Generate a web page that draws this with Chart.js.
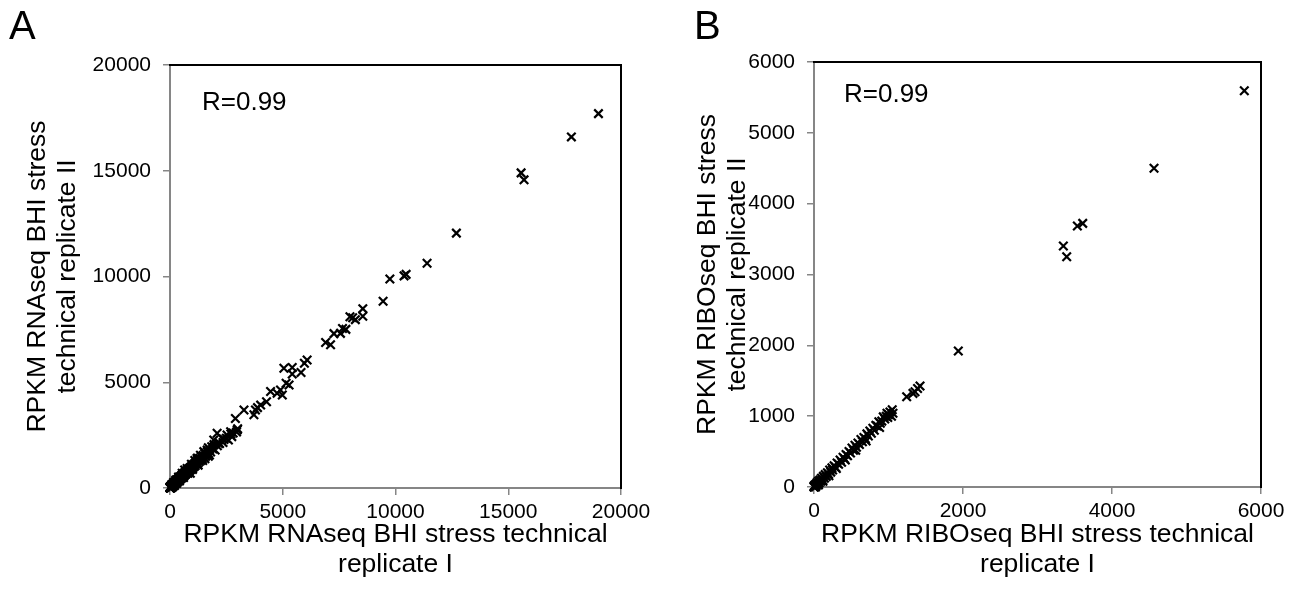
<!DOCTYPE html>
<html><head><meta charset="utf-8">
<script src="https://cdn.jsdelivr.net/npm/chart.js@4.4.1/dist/chart.umd.min.js"></script>
<style>
html,body{margin:0;padding:0;background:#fff;}
body{width:1297px;height:590px;position:relative;overflow:hidden;font-family:'Liberation Sans',Arial,sans-serif;}
.panel{position:absolute;top:0;}
#wrapA{left:0;width:660px;height:590px;}
#wrapB{left:660px;width:637px;height:590px;}
.letter{position:absolute;font-size:40px;line-height:1;color:#000;}
</style></head>
<body>
<div id="wrapA" class="panel"><canvas id="cA" width="660" height="590"></canvas></div>
<div id="wrapB" class="panel"><canvas id="cB" width="637" height="590"></canvas></div>
<div class="letter" style="left:9px;top:5px">A</div>
<div class="letter" style="left:694px;top:5px">B</div>
<script>
// ---------- Panel A: RNAseq technical replicates ----------
const rnaRep1 = [19000,17800,15570,15700,12700,11400,10470,10380,9750,9450,8550,8550,8220,7980,8100,7800,7650,7560,7270,7120,6900,6080,5960,5810,5420,5050,5420,5280,5150,4900,4750,4460,4980,4280,4020,3790,3720,3880,3280,2900,2980,2690,2530,2310,2090,1940,2160,2740,2590,
 2200,2400,2500,2700,2800,3000,2950,2350,1650,1350,1100,1450,1250,900,650,1700,
 1900,1850,1800,1760,1700,1650,1620,1580,1540,1500,1470,1430,1400,1360,1330,1300,1270,1240,1210,1180,1150,1120,1100,1070,1050,1020,1000,980,960,940,920,900,880,860,840,820,800,780,765,750,730,710,700,680,665,650,635,620,605,590,575,560,545,530,515,500,490,475,460,450,435,420,410,395,380,370,355,340,330,315,300,290,280,265,250,240,230,215,200,190,180,170,160,150,140,130,120,110,100,90,80,70,60,50,45,35,30,20,15,10,5,0,25,0,60,10,120,80,200,160,300,260,420,380,600,540,800,760,1000,950,1250,1200,1550,1500,1750,1700,1950,2000,2100];
const rnaRep2 = [17700,16600,14900,14570,12050,10630,10100,10030,9880,8830,8480,8120,7960,8100,8050,7500,7540,7310,7300,6770,6880,6050,5900,5460,5700,5660,5390,4870,4950,4630,4480,4560,4400,4080,3920,3690,3460,3800,3690,3290,2740,2660,2510,2350,2590,2270,2110,2430,2270,
 2100,2300,2350,2550,2600,2800,2650,2150,1800,1550,1300,1300,1400,700,850,1500,
 1850,1950,1700,1820,1640,1720,1580,1500,1620,1450,1540,1380,1470,1300,1400,1250,1330,1180,1300,1150,1210,1060,1160,1020,1110,980,1060,930,1010,900,980,860,950,820,900,790,860,740,820,720,790,680,760,650,720,610,700,590,670,560,640,520,610,500,580,470,550,450,520,420,490,400,470,370,440,350,410,320,390,300,360,270,330,250,300,220,280,200,250,180,220,150,200,130,180,110,160,100,140,80,120,60,100,40,80,25,60,15,40,5,20,0,0,30,10,60,60,160,120,260,220,380,330,520,500,700,700,920,880,1120,1080,1400,1380,1720,1560,1900,2050,1800,2000];

// ---------- Panel B: RIBOseq technical replicates ----------
const riboRep1 = [5776,4564,3607,3535,3347,3392,1937,1423,1356,1329,1244,1390,
 1050,1060,1040,1020,1000,990,970,950,930,910,890,870,850,830,810,790,770,750,730,710,690,670,650,630,610,590,570,550,530,510,490,470,450,430,410,390,370,350,330,310,290,270,250,240,225,210,195,180,165,150,140,125,115,100,90,80,70,60,50,40,30,25,15,10,5,0,0,20,60,120,200,300,420,560,700,880,980];
const riboRep2 = [5595,4499,3722,3685,3402,3251,1920,1426,1345,1322,1275,1390,
 1090,1040,1000,1060,1020,980,1000,960,990,930,900,920,860,870,800,830,760,790,720,750,680,700,640,670,600,620,560,590,520,550,480,500,440,460,400,420,350,380,320,340,280,300,240,270,210,240,180,200,150,175,125,150,100,125,80,100,60,80,40,60,20,40,10,25,0,10,0,0,30,80,160,260,380,520,650,840,1040];

const xTicksA = [0,5000,10000,15000,20000];
const yTicksA = [0,5000,10000,15000,20000];
const xTicksB = [0,2000,4000,6000];
const yTicksB = [0,1000,2000,3000,4000,5000,6000];

const titleXA = ['RPKM RNAseq BHI stress technical','replicate I'];
const titleYA = ['RPKM RNAseq BHI stress','technical replicate II'];
const titleXB = ['RPKM RIBOseq BHI stress technical','replicate I'];
const titleYB = ['RPKM RIBOseq BHI stress','technical replicate II'];
const corrLabel = 'R=0.99';

// ---------- helpers ----------
const FAM = "'Liberation Sans', Arial, sans-serif";
const AXIS_GRAY = '#868686';

const rLabel = {
  id: 'rLabel',
  afterDraw(chart, args, opts) {
    const {ctx, chartArea} = chart;
    ctx.save();
    ctx.font = '26px ' + FAM;
    ctx.fillStyle = '#000';
    ctx.textAlign = 'left';
    ctx.textBaseline = 'alphabetic';
    ctx.fillText(opts.text, chartArea.left + opts.dx, chartArea.top + opts.dy);
    ctx.restore();
  }
};

function points(xs, ys) { return xs.map((x, i) => ({x: x, y: ys[i]})); }

function makeChart(id, cfg) {
  const valueAxis = (pos, max, ticksArr, title, size, titlePad, tickPad) => ({
    type: 'linear', position: pos, min: 0, max: max,
    afterBuildTicks: s => { s.ticks = ticksArr.map(v => ({value: v})); },
    afterFit: s => { if (pos === 'left') s.width = size; else s.height = size; },
    grid: {display: true, drawOnChartArea: false, drawTicks: true, tickLength: 7, color: AXIS_GRAY, lineWidth: 1.5},
    border: {display: true, color: AXIS_GRAY, width: 2},
    ticks: {color: '#000', padding: tickPad, font: {family: FAM, size: 21}, callback: v => String(v), maxRotation: 0, autoSkip: false},
    title: {display: true, text: title, color: '#000', font: {family: FAM, size: 26.5, lineHeight: 30/26.5}, padding: titlePad}
  });
  const frameAxis = (pos) => ({
    type: 'linear', position: pos, min: 0, max: 1, display: true,
    afterFit: s => { if (pos === 'right') s.width = 0; else s.height = 0; },
    grid: {display: false},
    border: {display: true, color: '#000', width: 2},
    ticks: {display: false}
  });
  return new Chart(document.getElementById(id), {
    type: 'scatter',
    data: {datasets: [{
      data: points(cfg.xs, cfg.ys),
      pointStyle: 'crossRot', pointRadius: 6, pointHoverRadius: 6,
      borderColor: '#000', backgroundColor: '#000', pointBorderWidth: 2.2, clip: false
    }]},
    options: {
      responsive: false, animation: false, events: [],
      layout: {padding: cfg.pad},
      scales: {
        x: valueAxis('bottom', cfg.max, cfg.xTicks, cfg.titleX, cfg.xH, {top: 0, bottom: 10}, 5),
        y: valueAxis('left', cfg.max, cfg.yTicks, cfg.titleY, cfg.yW, {top: cfg.yTitlePad, bottom: 0}, 12),
        x2: frameAxis('top'),
        y2: frameAxis('right')
      },
      plugins: {legend: {display: false}, tooltip: {enabled: false},
        rLabel: {text: corrLabel, dx: cfg.rdx, dy: cfg.rdy}}
    },
    plugins: [rLabel]
  });
}

makeChart('cA', {xs: rnaRep1, ys: rnaRep2, max: 20000, xTicks: xTicksA, yTicks: yTicksA,
  titleX: titleXA, titleY: titleYA, xH: 102, yW: 170, yTitlePad: 23,
  pad: {left: 0, top: 65, right: 39, bottom: 0}, rdx: 32, rdy: 45});
makeChart('cB', {xs: riboRep1, ys: riboRep2, max: 6000, xTicks: xTicksB, yTicks: yTicksB,
  titleX: titleXB, titleY: titleYB, xH: 103, yW: 154, yTitlePad: 33,
  pad: {left: 0, top: 62, right: 36, bottom: 0}, rdx: 30, rdy: 40});
</script>
</body></html>
